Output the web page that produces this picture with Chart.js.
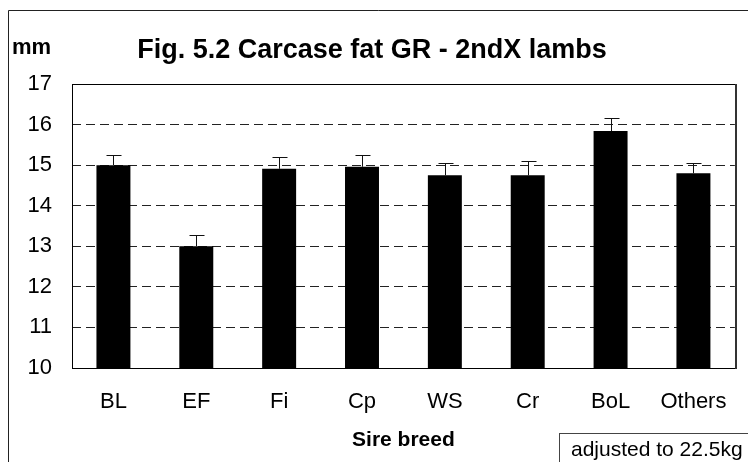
<!DOCTYPE html>
<html>
<head>
<meta charset="utf-8">
<script src="https://cdn.jsdelivr.net/npm/chart.js@4.4.1/dist/chart.umd.min.js"></script>
<style>
  html, body { margin: 0; padding: 0; background: #fff; }
  canvas { display: block; }
</style>
</head>
<body>
<canvas id="myChart" width="748" height="462"></canvas>
<script>
// sire breeds and adjusted GR fat (mm) with standard errors
const breeds = ['BL', 'EF', 'Fi', 'Cp', 'WS', 'Cr', 'BoL', 'Others'];
const grFat = [15.0, 13.0, 14.91, 14.96, 14.75, 14.75, 15.84, 14.8];
const grErr = [0.24, 0.29, 0.28, 0.28, 0.30, 0.35, 0.32, 0.25];
const yTicks = [10, 11, 12, 13, 14, 15, 16, 17];

const FONT = "'Liberation Sans', Arial, sans-serif";

// error bars, plot frame and the text boxes around the chart
const decorations = {
  id: 'decorations',
  afterDatasetsDraw(chart) {
    const ctx = chart.ctx;
    const y = chart.scales.y;
    const meta = chart.getDatasetMeta(0);
    ctx.save();
    ctx.strokeStyle = '#111';
    ctx.lineWidth = 1;
    meta.data.forEach((bar, i) => {
      const x = Math.round(bar.x) + 0.5;
      const top = Math.round(y.getPixelForValue(grFat[i] + grErr[i])) + 0.5;
      ctx.beginPath();
      ctx.moveTo(x, bar.y);
      ctx.lineTo(x, top);
      ctx.moveTo(x - 7, top);
      ctx.lineTo(x + 8, top);
      ctx.stroke();
    });
    ctx.restore();
  },
  afterDraw(chart) {
    const ctx = chart.ctx;
    const a = chart.chartArea;
    ctx.save();
    // plot frame
    ctx.strokeStyle = '#000';
    ctx.lineWidth = 1;
    ctx.strokeRect(Math.round(a.left) + 0.5, Math.round(a.top) + 0.5,
      Math.round(a.right - a.left), Math.round(a.bottom - a.top));
    ctx.strokeStyle = '#333';
    ctx.lineWidth = 2;
    ctx.beginPath();
    ctx.moveTo(Math.round(a.right) + 1, a.top);
    ctx.lineTo(Math.round(a.right) + 1, a.bottom + 1);
    ctx.stroke();

    // outer border (top and left)
    ctx.strokeStyle = '#222';
    ctx.lineWidth = 1;
    ctx.beginPath();
    ctx.moveTo(8.5, 462);
    ctx.lineTo(8.5, 10.5);
    ctx.lineTo(748, 10.5);
    ctx.stroke();

    // title and unit
    ctx.fillStyle = '#000';
    ctx.textBaseline = 'middle';
    ctx.textAlign = 'center';
    ctx.font = 'bold 27px ' + FONT;
    ctx.fillText('Fig. 5.2 Carcase fat GR - 2ndX lambs', 372, 51);
    ctx.textAlign = 'left';
    ctx.font = 'bold 22px ' + FONT;
    ctx.fillText('mm', 12, 48);

    // note box
    ctx.strokeStyle = '#444';
    ctx.strokeRect(559.5, 433.5, 200, 40);
    ctx.font = '21px ' + FONT;
    ctx.fillText('adjusted to 22.5kg', 571, 450);
    ctx.restore();
  }
};

const ctx = document.getElementById('myChart').getContext('2d');
const myChart = new Chart(ctx, {
  type: 'bar',
  data: {
    labels: breeds,
    datasets: [{
      data: grFat,
      backgroundColor: '#000',
      borderWidth: 0,
      barPercentage: 0.41,
      categoryPercentage: 1.0
    }]
  },
  options: {
    responsive: false,
    animation: false,
    layout: { padding: { top: 84, right: 9, left: 0, bottom: 0 } },
    plugins: {
      legend: { display: false },
      tooltip: { enabled: false }
    },
    scales: {
      x: {
        grid: { display: false, drawTicks: false },
        border: { display: false },
        ticks: {
          color: '#000',
          padding: 21,
          font: { family: FONT, size: 22 }
        },
        title: {
          display: true,
          text: 'Sire breed',
          color: '#000',
          padding: { top: 0, bottom: 9 },
          font: { family: FONT, size: 21, weight: 'bold' }
        },
        afterFit(scale) { scale.height = 462 - 368; }
      },
      y: {
        min: yTicks[0],
        max: yTicks[yTicks.length - 1],
        afterBuildTicks(scale) { scale.ticks = yTicks.map(v => ({ value: v })); },
        grid: {
          drawTicks: false,
          color: ctx => (ctx.tick && (ctx.tick.value === 10 || ctx.tick.value === 17)) ? 'rgba(0,0,0,0)' : '#222',
          lineWidth: 1
        },
        border: { display: false, dash: [9, 5] },
        ticks: {
          color: '#000',
          padding: 20,
          font: { family: FONT, size: 22 }
        },
        afterFit(scale) { scale.width = 72; }
      }
    }
  },
  plugins: [decorations]
});
</script>
</body>
</html>
